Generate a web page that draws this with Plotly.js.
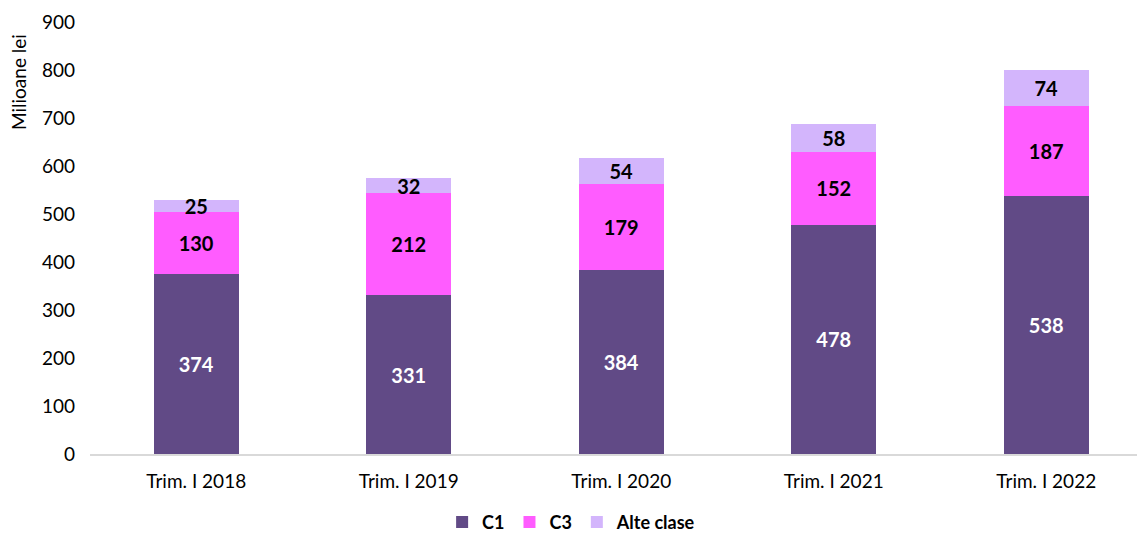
<!DOCTYPE html>
<html><head><meta charset="utf-8">
<script src="https://cdn.plot.ly/plotly-3.0.1.min.js"></script>
<style>body{margin:0;padding:0;background:#fff}#chart{width:1137px;height:533px}</style>
</head><body><div id="chart"></div>
<script>
const categories = ["Trim. I 2018","Trim. I 2019","Trim. I 2020","Trim. I 2021","Trim. I 2022"];
const c1 = [374, 331, 384, 478, 538];
const c3 = [130, 212, 179, 152, 187];
const alte = [25, 32, 54, 58, 74];
const seriesNames = ["C1","C3","Alte clase"];
const F = "Lato, 'Open Sans', sans-serif";

function tr(name, vals, color, txtColor){
  return {type:'bar', name:name, x:categories, y:vals, marker:{color:color},
    text:vals.map(String), textposition:'inside', insidetextanchor:'middle', textangle:0,
    textfont:{family:F, size:20, color:txtColor, weight:'bold'}, hoverinfo:'skip'};
}
const data = [
  tr(seriesNames[0], c1, '#614A86', '#ffffff'),
  tr(seriesNames[1], c3, '#FF5CFF', '#000000'),
  tr(seriesNames[2], alte, '#D3B5FC', '#000000')
];
const layout = {
  width:1137, height:533, barmode:'stack', bargap:0.6,
  margin:{l:90, r:0, t:22, b:79, autoexpand:false},
  paper_bgcolor:'#fff', plot_bgcolor:'#fff',
  font:{family:F, size:19, color:'#000'},
  uniformtext:{minsize:20, mode:'show'},
  xaxis:{type:'category', range:[-0.5, 4.427], showgrid:false, showline:true, linecolor:'#D9D9D9', linewidth:1.5,
    ticks:'', ticklabelstandoff:10, tickfont:{family:F, size:19, color:'#000'}, fixedrange:true, automargin:false},
  yaxis:{range:[0,900], dtick:100, showgrid:false, zeroline:false, showline:false, ticks:'',
    ticklabelstandoff:14, tickfont:{family:F, size:19, color:'#000'}, fixedrange:true, automargin:false},
  showlegend:true,
  legend:{orientation:'h', x:0.46, xanchor:'center', yref:'container', y:0.02, yanchor:'middle',
    font:{family:F, size:18, color:'#000', weight:'bold'}, itemwidth:30, traceorder:'normal'},
  annotations:[{text:'Milioane lei', xref:'paper', yref:'paper', x:-0.0688, y:0.861, textangle:-90,
    showarrow:false, xanchor:'center', yanchor:'middle', font:{family:F, size:19, color:'#000'}}]
};
Plotly.newPlot('chart', data, layout, {displayModeBar:false, staticPlot:true});
</script></body></html>
